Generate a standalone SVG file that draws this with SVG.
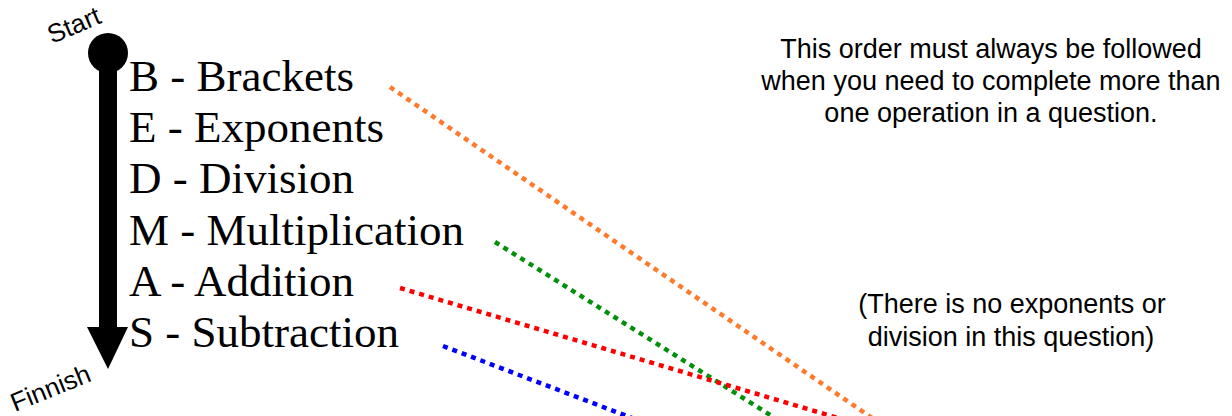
<svg xmlns="http://www.w3.org/2000/svg" width="1232" height="416" viewBox="0 0 1232 416">
<style>
.list{font-family:"Liberation Serif","Times New Roman",serif;font-size:45px;fill:#000}
.note{font-family:"Liberation Sans",Arial,sans-serif;font-size:27px;fill:#000;text-anchor:middle}
.lbl{font-family:"Liberation Sans",Arial,sans-serif;font-size:26px;fill:#000}
.dot{fill:none;stroke-width:4.5;stroke-dasharray:5 5}
</style>
<rect width="1232" height="416" fill="#fff"/>
<g id="timeline">
<circle cx="108" cy="53" r="20" fill="#000"/>
<rect x="99" y="53" width="18" height="276" fill="#000"/>
<polygon points="87,327 128,327 108,369" fill="#000"/>
<text class="lbl" transform="translate(52,44) rotate(-23)">Start</text>
<text class="lbl" transform="translate(15,412) rotate(-22)">Finnish</text>
</g>
<g id="list">
<text class="list" x="129" y="91">B - Brackets</text>
<text class="list" x="129" y="142">E - Exponents</text>
<text class="list" x="129" y="193">D - Division</text>
<text class="list" x="129" y="245">M - Multiplication</text>
<text class="list" x="129" y="296">A - Addition</text>
<text class="list" x="129" y="347">S - Subtraction</text>
</g>
<g id="note-order">
<text class="note" x="991" y="58">This order must always be followed</text>
<text class="note" x="991" y="90">when you need to complete more than</text>
<text class="note" x="991" y="122">one operation in a question.</text>
</g>
<g id="note-none">
<text class="note" x="1012" y="313">(There is no exponents or</text>
<text class="note" x="1011" y="346">division in this question)</text>
</g>
<g id="connectors">
<line class="dot" x1="390" y1="87" x2="872" y2="418" stroke="#ff7a2a"/>
<line class="dot" x1="495" y1="242" x2="775" y2="418" stroke="#00900a"/>
<line class="dot" x1="400" y1="288" x2="838" y2="418" stroke="#ff0000"/>
<line class="dot" x1="443" y1="346" x2="632" y2="418" stroke="#0000ff"/>
</g>
</svg>
